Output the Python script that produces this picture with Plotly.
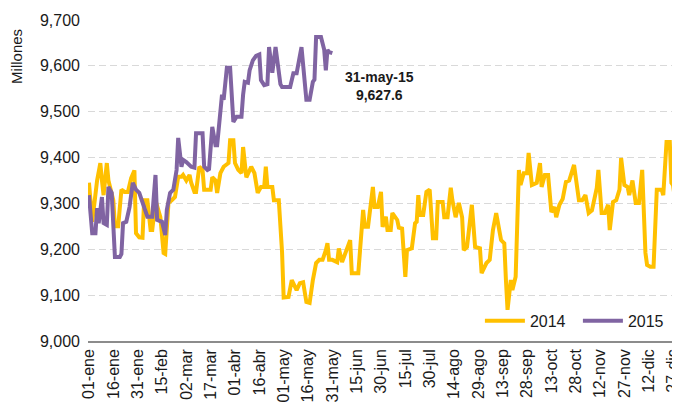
import plotly.graph_objects as go

# ---- data (day of year index, value in millions) ----
days_2014 = [0, 1, 2, 5, 7, 8, 9, 11, 12, 15, 16, 18, 20, 22, 24, 26, 28, 29, 31, 33,
             34, 36, 38, 39, 41, 44, 46, 47, 49, 51, 53, 55, 57, 58, 60, 62, 63, 65, 66, 68,
             70, 71, 75, 76, 78, 79, 81, 83, 86, 87, 89, 90, 92, 94, 95, 97, 98, 100, 102, 104,
             106, 108, 109, 110, 113, 114, 117, 118, 119, 120, 123, 125, 128, 130, 132, 134, 136, 138, 140, 142,
             144, 146, 147, 148, 150, 153, 154, 156, 159, 161, 162, 166, 169, 170, 172, 175, 176, 178, 180, 181,
             183, 184, 186, 187, 190, 191, 193, 195, 196, 199, 201, 202, 203, 204, 206, 208, 210, 212, 214, 215,
             218, 219, 221, 223, 224, 226, 228, 230, 231, 233, 236, 238, 241, 242, 245, 247, 249, 251, 254, 256,
             257, 258, 260, 261, 263, 265, 266, 268, 270, 271, 273, 276, 278, 279, 281, 283, 285, 287, 288, 290,
             292, 294, 296, 299, 302, 304, 306, 308, 310, 313, 314, 316, 318, 320, 321, 323, 325, 327, 328, 330,
             332, 333, 335, 337, 339, 341, 343, 344, 346, 348, 350, 353, 354, 355, 356, 358, 359, 360, 362, 364]
vals_2014 = [9345, 9301, 9260, 9350, 9388, 9350, 9318, 9388, 9350, 9307, 9250, 9250, 9330, 9325, 9325, 9355, 9372, 9235, 9226, 9225,
             9307, 9307, 9242, 9242, 9307, 9270, 9192, 9190, 9301, 9307, 9314, 9358, 9358, 9362, 9350, 9362, 9345, 9325, 9325, 9380,
             9373, 9330, 9330, 9357, 9350, 9323, 9366, 9380, 9388, 9438, 9438, 9388, 9373, 9366, 9423, 9357, 9366, 9380, 9366, 9323,
             9336, 9336, 9380, 9336, 9336, 9307, 9307, 9264, 9195, 9095, 9096, 9133, 9111, 9126, 9128, 9085, 9083, 9133, 9170, 9177,
             9177, 9198, 9213, 9177, 9177, 9172, 9202, 9172, 9205, 9220, 9148, 9148, 9286, 9249, 9249, 9336, 9292, 9292, 9325, 9249,
             9271, 9242, 9242, 9279, 9264, 9247, 9245, 9140, 9198, 9202, 9257, 9260, 9318, 9275, 9275, 9325, 9330, 9224, 9224, 9303,
             9303, 9270, 9270, 9334, 9307, 9270, 9301, 9270, 9198, 9205, 9297, 9205, 9202, 9148, 9170, 9177, 9242, 9279, 9220, 9213,
             9133, 9068, 9133, 9111, 9140, 9373, 9340, 9366, 9366, 9410, 9340, 9345, 9388, 9336, 9362, 9362, 9281, 9292, 9270, 9297,
             9310, 9347, 9350, 9384, 9307, 9307, 9318, 9279, 9285, 9334, 9373, 9279, 9279, 9297, 9242, 9303, 9307, 9330, 9399, 9340,
             9336, 9318, 9350, 9301, 9301, 9373, 9192, 9166, 9162, 9162, 9330, 9330, 9318, 9401, 9434, 9434, 9345, 9340, 9290, 9318]

days_2015 = [0, 2, 4, 5, 6, 8, 9, 11, 12, 14, 16, 19, 20, 21, 23, 25, 27, 29, 31, 33,
             36, 39, 40, 41, 42, 45, 47, 48, 50, 52, 54, 55, 57, 58, 60, 63, 65, 66, 70, 71,
             73, 74, 76, 78, 79, 81, 82, 83, 85, 87, 89, 91, 94, 95, 96, 98, 99, 101, 103, 105,
             106, 108, 110, 111, 113, 115, 118, 119, 124, 126, 128, 131, 133, 134, 136, 138, 139, 140, 143, 145,
             146, 147, 148, 150]
vals_2015 = [9318, 9235, 9235, 9290, 9257, 9314, 9257, 9253, 9336, 9323, 9183, 9183, 9190, 9257, 9260, 9292, 9345, 9330, 9323, 9301,
             9271, 9271, 9334, 9362, 9264, 9260, 9231, 9286, 9323, 9330, 9373, 9443, 9380, 9395, 9390, 9380, 9378, 9453, 9453, 9380,
             9373, 9375, 9467, 9427, 9427, 9504, 9537, 9526, 9596, 9596, 9478, 9489, 9489, 9537, 9565, 9563, 9590, 9612, 9622, 9625,
             9569, 9558, 9560, 9641, 9585, 9641, 9560, 9554, 9554, 9584, 9584, 9641, 9565, 9526, 9526, 9565, 9570, 9663, 9663, 9635,
             9590, 9635, 9630, 9627.6]

tick_days = list(range(0, 361, 15))
tick_labels = ["01-ene", "16-ene", "31-ene", "15-feb", "02-mar", "17-mar", "01-abr", "16-abr",
               "01-may", "16-may", "31-may", "15-jun", "30-jun", "15-jul", "30-jul", "14-ago",
               "29-ago", "13-sep", "28-sep", "13-oct", "28-oct", "12-nov", "27-nov", "12-dic", "27-dic"]
y_ticks = [9000, 9100, 9200, 9300, 9400, 9500, 9600, 9700]

GOLD = "#FFC000"
PURPLE = "#8064A2"
FONT = "Liberation Sans, Arial, sans-serif"

fig = go.Figure()
fig.add_trace(go.Scatter(x=days_2014, y=vals_2014, mode="lines", name="2014",
                         line=dict(color=GOLD, width=4)))
fig.add_trace(go.Scatter(x=days_2015, y=vals_2015, mode="lines", name="2015",
                         line=dict(color=PURPLE, width=4)))

last_val = vals_2015[-1]
fig.add_annotation(xref="paper", yref="paper", x=0.492, y=0.855,
                   text=f"<b>31-may-15<br>{last_val:,.1f}</b>", showarrow=False,
                   font=dict(family=FONT, size=14, color="#1a1a1a"), align="center")
fig.add_annotation(xref="paper", yref="paper", x=-0.12, y=0.888, xanchor="center", yanchor="middle",
                   text="Millones", textangle=-90, showarrow=False,
                   font=dict(family=FONT, size=15, color="#1a1a1a"))

fig.update_layout(
    width=672, height=397,
    margin=dict(l=80, r=0, t=12, b=64, autoexpand=False),
    paper_bgcolor="white", plot_bgcolor="white",
    font=dict(family=FONT, size=16, color="#1a1a1a"),
    showlegend=True,
    legend=dict(orientation="h", x=0.662, y=0.01, xanchor="left", yanchor="bottom",
                bgcolor="rgba(0,0,0,0)", font=dict(size=16), itemwidth=40, tracegroupgap=0,
                entrywidth=43, entrywidthmode="pixels"),
    xaxis=dict(range=[-0.6, 364.3], tickmode="array", tickvals=tick_days, ticktext=tick_labels,
               tickangle=-90, showgrid=False, zeroline=False, showline=True, automargin=False,
               linecolor="#8c8c8c", linewidth=1.5, ticks="", tickfont=dict(size=16),
               ticklabeloverflow="allow"),
    yaxis=dict(range=[9000, 9700], tickmode="array", tickvals=y_ticks, tickformat=",d",
               showgrid=True, gridcolor="#D9D9D9", griddash="7px,4px", gridwidth=1,
               zeroline=False, showline=False, ticks="", tickfont=dict(size=16), automargin=False,
               ticklabelstandoff=7),
)

fig.write_html("out.html")
